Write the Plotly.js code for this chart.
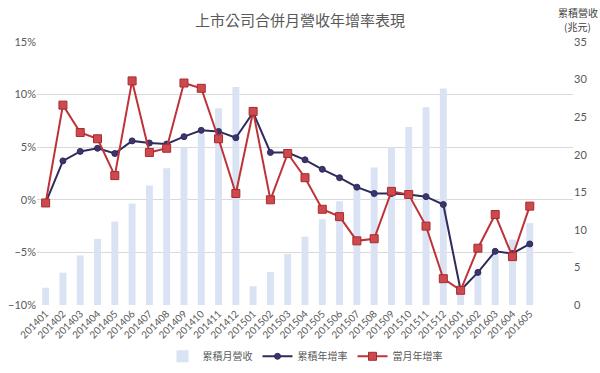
<!DOCTYPE html>
<html>
<head>
<meta charset="utf-8">
<script src="https://cdn.plot.ly/plotly-3.0.1.min.js"></script>
<style>html,body{margin:0;padding:0;background:#fff;}#chart{width:600px;height:373px;}</style>
</head>
<body>
<div id="chart"></div>
<script>
const months = ["201401","201402","201403","201404","201405","201406","201407","201408","201409","201410","201411","201412",
"201501","201502","201503","201504","201505","201506","201507","201508","201509","201510","201511","201512",
"201601","201602","201603","201604","201605"];
const cumRevenue = [2.3,4.3,6.6,8.8,11.1,13.5,15.9,18.2,21.0,22.8,26.2,29.0,
2.5,4.4,6.8,9.1,11.4,13.8,16.0,18.3,21.0,23.7,26.3,28.8,
2.0,4.3,6.9,8.7,10.9];
const cumYoY = [-0.3,3.7,4.6,4.9,4.4,5.6,5.4,5.3,6.0,6.6,6.5,5.9,
8.3,4.5,4.5,3.8,2.9,2.1,1.2,0.6,0.6,0.5,0.3,-0.45,
-8.6,-6.9,-4.9,-5.1,-4.2];
const monthYoY = [-0.3,9.0,6.4,5.8,2.3,11.3,4.5,4.9,11.1,10.6,5.8,0.6,
8.4,0.0,4.4,2.1,-0.9,-1.6,-3.9,-3.7,0.8,0.5,-2.5,-7.5,
-8.6,-4.6,-1.4,-5.4,-0.6];
const seriesNames = ["累積月營收","累積年增率","當月年增率"];
const chartTitle = "上市公司合併月營收年增率表現";
const rightTitleLines = ["累積營收","(兆元)"];

const cjk = '"Noto Sans CJK TC", "Noto Sans CJK SC", sans-serif';
const latin = 'Lato, "Open Sans", sans-serif';

const traces = [
  {type:'bar', x:months, y:cumRevenue, name:seriesNames[0], yaxis:'y',
   marker:{color:'#dae3f3'}},
  {type:'scatter', mode:'lines+markers', x:months, y:cumYoY.map(v=>v/100), name:seriesNames[1], yaxis:'y2',
   line:{color:'#2f2b5c', width:2}, marker:{symbol:'circle', size:6, color:'#3b356b', line:{color:'#2f2b5c', width:1}}},
  {type:'scatter', mode:'lines+markers', x:months, y:monthYoY.map(v=>v/100), name:seriesNames[2], yaxis:'y2',
   line:{color:'#be3338', width:2}, marker:{symbol:'square', size:8, color:'#cc4a4e', line:{color:'#a82a2f', width:1}}}
];

const layout = {
  width:600, height:373,
  margin:{l:37, r:27, t:42, b:68, autoexpand:false},
  paper_bgcolor:'#fff', plot_bgcolor:'rgba(0,0,0,0)',
  title:{text:chartTitle, x:0.5, xanchor:'center', y:0.945, yanchor:'middle', automargin:false,
         font:{family:cjk, size:15, color:'#595959'}},
  bargap:0.6,
  showlegend:true,
  legend:{orientation:'h', x:0.5, xanchor:'center', y:-0.195, yanchor:'middle',
          font:{family:cjk, size:10, color:'#595959'}, itemwidth:30, traceorder:'normal'},
  xaxis:{type:'category', range:[-0.5,30.5], tickangle:-45, showgrid:false, zeroline:false, automargin:false,
         showline:false, ticks:'', tickfont:{family:latin, size:10, color:'#595959'}},
  yaxis:{side:'right', range:[0,35], dtick:5, showgrid:false, zeroline:false, showline:false, automargin:false,
         ticks:'', tickfont:{family:latin, size:11, color:'#595959'}},
  yaxis2:{overlaying:'y', side:'left', range:[-0.10,0.15], dtick:0.05, tickformat:'.0%', automargin:false,
          showgrid:true, gridcolor:'#d9d9d9', gridwidth:1, zeroline:false, showline:false, ticks:'',
          tickfont:{family:latin, size:11, color:'#595959'}},
  annotations:[
    {text:rightTitleLines[0], xref:'paper', yref:'paper', x:1.009, y:1.113, xanchor:'center', yanchor:'middle',
     showarrow:false, font:{family:cjk, size:10, color:'#404040'}},
    {text:rightTitleLines[1], xref:'paper', yref:'paper', x:1.009, y:1.06, xanchor:'center', yanchor:'middle',
     showarrow:false, font:{family:cjk, size:10, color:'#404040'}}
  ]
};

Plotly.newPlot('chart', traces, layout, {displayModeBar:false, staticPlot:true});
</script>
</body>
</html>
